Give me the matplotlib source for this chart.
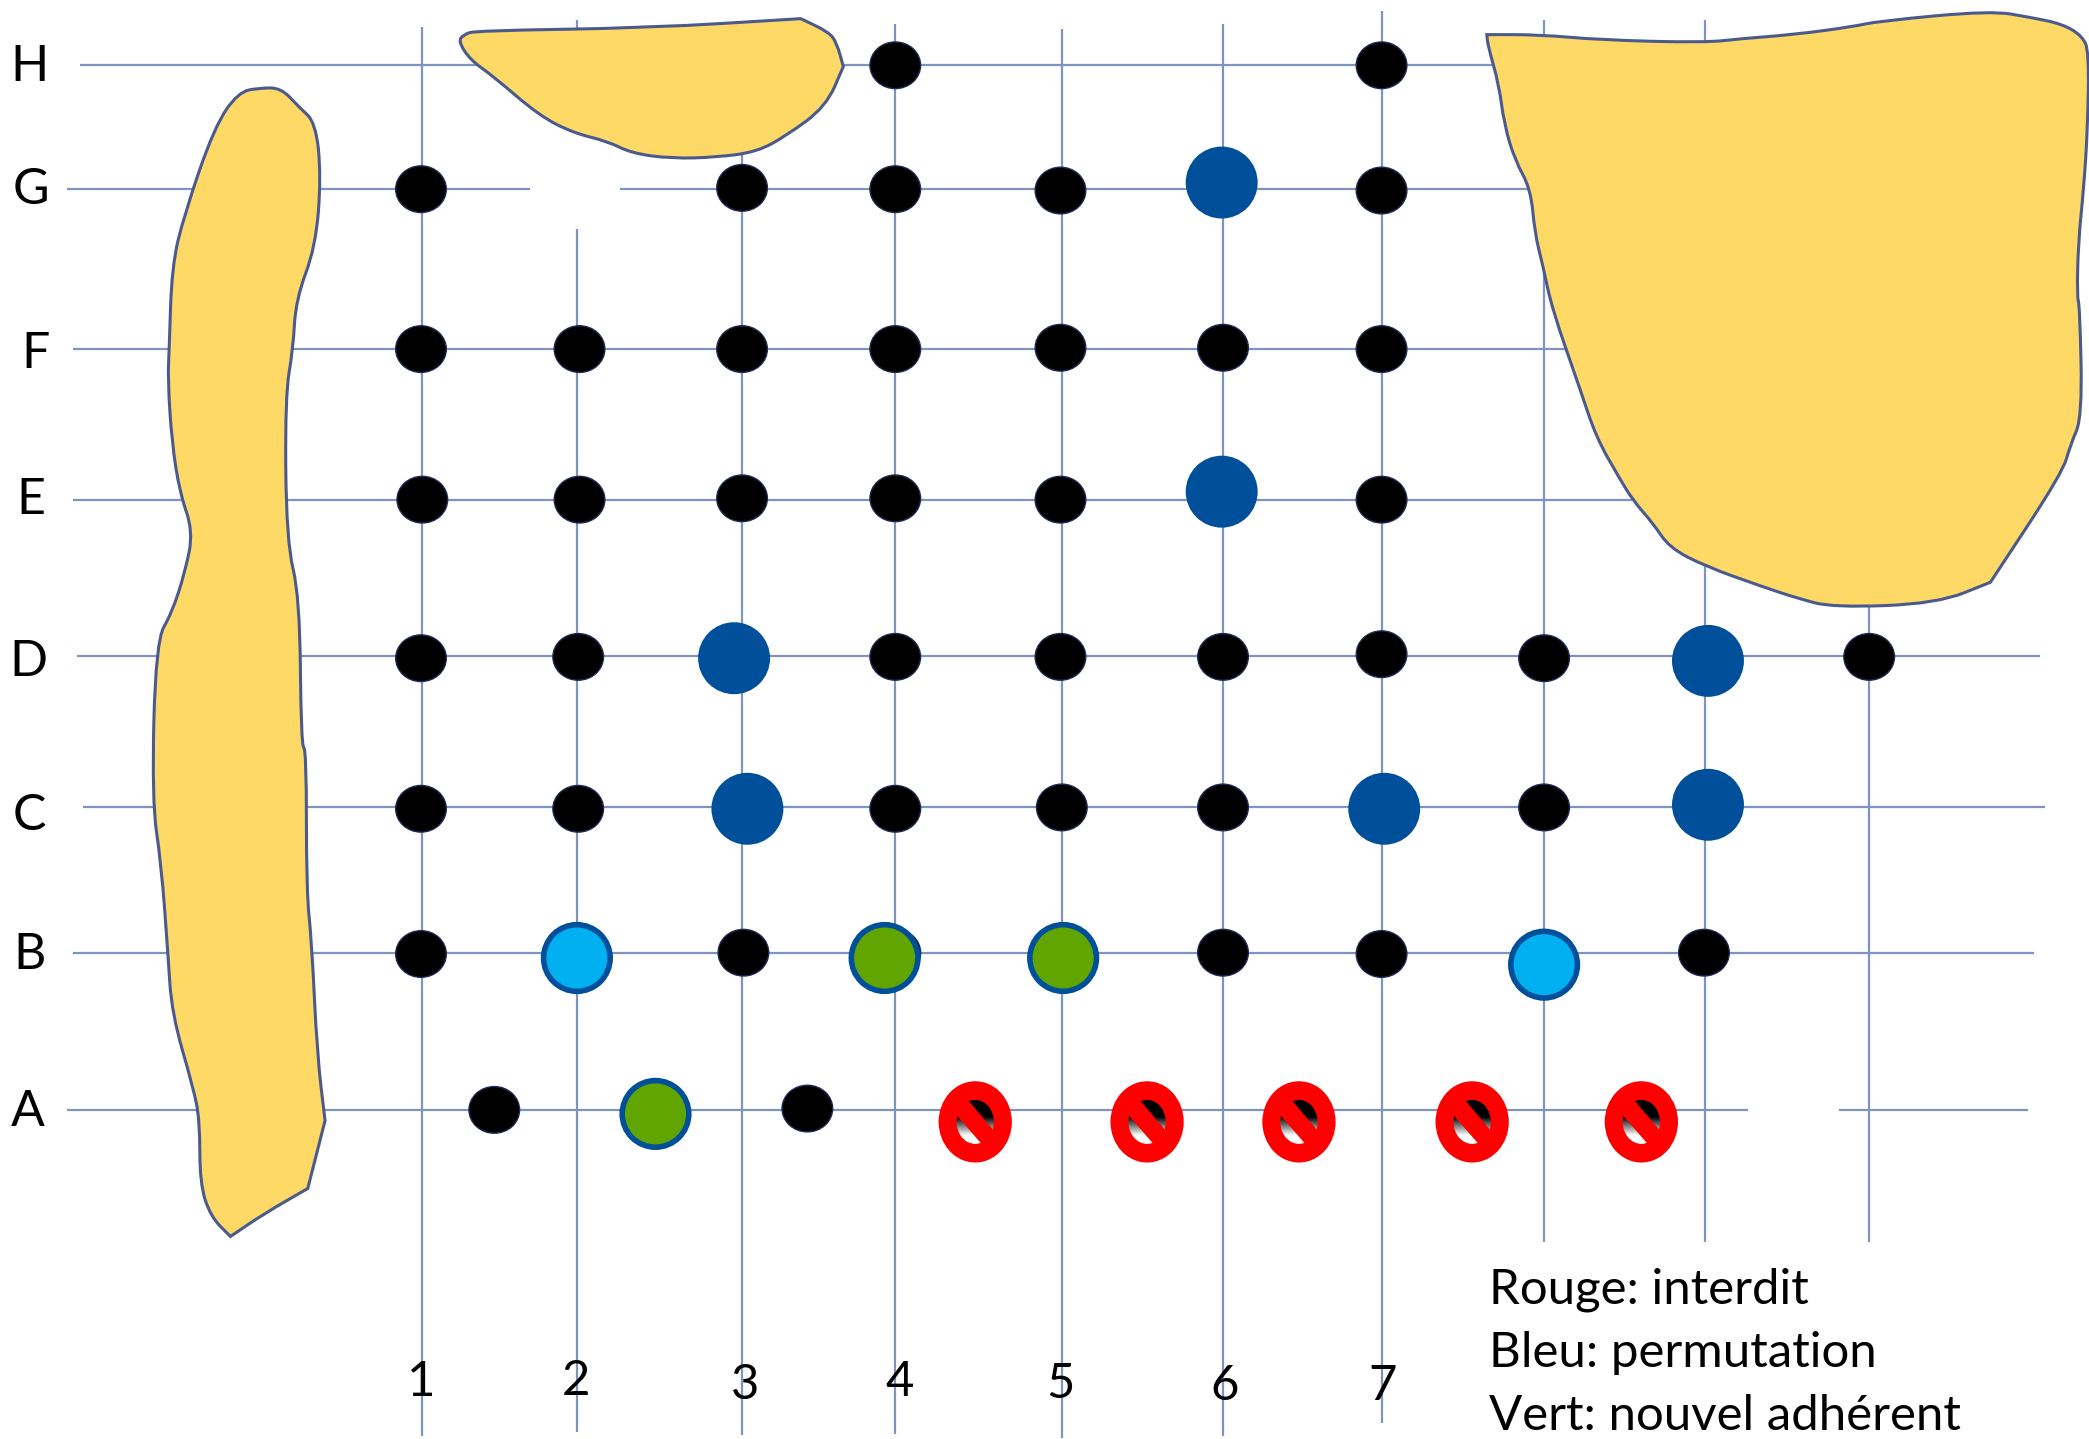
#!/usr/bin/env python3
"""Plan de salle: grille de places, zones jaunes et legende."""

import matplotlib

matplotlib.use("Agg")
import matplotlib.pyplot as plt
import numpy as np
from matplotlib.patches import Ellipse, PathPatch, Polygon
from matplotlib.path import Path

ROW_NAMES = ["H", "G", "F", "E", "D", "C", "B", "A"]
ROW_LABEL_X = [22, 23, 27, 23, 21, 22, 22, 21]
ROW_LABEL_Y = [61, 153, 276, 386, 507, 623, 727, 845]

COL_NAMES = ["1", "2", "3", "4", "5", "6", "7"]
COL_LABEL_X = [316, 432, 559, 675, 796, 919, 1038]
COL_LABEL_Y = [1048, 1047, 1050, 1048, 1049, 1051, 1051]

# y, x start, x end
H_LINES = [
    (49, 60, 1125),
    (142, 50, 398),
    (142, 465, 1160),
    (262, 55, 1185),
    (375, 55, 1225),
    (492, 58, 1531),
    (606, 62, 1535),
    (715, 55, 1527),
    (833, 50, 1312),
    (833, 1380, 1522),
]
# x, y start, y end
V_LINES = [
    (317, 20, 1078),
    (433, 15, 100),
    (433, 172, 1075),
    (557, 115, 1077),
    (672, 18, 1076),
    (797, 22, 1079),
    (918, 18, 1078),
    (1037, 8, 1068),
    (1159, 15, 932),
    (1280, 15, 932),
    (1403, 450, 932),
]

BLACK_X = [672, 1037,
           316, 557, 672, 796, 1037,
           316, 435, 557, 672, 796, 918, 1037,
           317, 435, 557, 672, 796, 1037,
           316, 434, 672, 796, 918, 1037, 1159, 1403,
           316, 434, 672, 797, 918, 1159,
           316, 558, 672, 918, 1037, 1279,
           371, 606]
BLACK_Y = [49, 49,
           142, 141, 142, 143, 143,
           262, 262, 262, 262, 261, 261, 262,
           375, 375, 374, 374, 375, 375,
           494, 493, 493, 493, 493, 491, 494, 493,
           607, 607, 607, 606, 606, 606,
           716, 715, 715, 715, 716, 715,
           833, 832]

BLUE_X = [917, 917, 551, 561, 1039, 1282, 1282]
BLUE_Y = [137, 369, 494, 607, 607, 496, 604]
CYAN_X = [433, 1159]
CYAN_Y = [719, 724]
GREEN_X = [664, 798, 492]
GREEN_Y = [719, 719, 836]
RED_X = [732, 861, 975, 1105, 1232]
RED_Y = [842, 842, 842, 842, 842]

# a repeated point keeps a sharp corner in the outline
LEFT_BLOB = [(179, 69), (195, 66), (211, 66), (224, 80), (237, 92), (241, 132), (237, 185), (222, 225),
             (220, 262), (214, 297), (215, 407), (225, 447), (226, 559), (230, 563), (230, 669),
             (234, 707), (238, 791), (244, 841), (244, 841), (231, 892), (231, 892), (198, 911),
             (173, 928), (173, 928), (158, 913),
             (150, 888), (150, 841), (145, 816), (129, 761), (126, 715), (121, 648), (114, 601),
             (117, 481), (129, 460), (139, 429), (145, 399), (135, 370), (129, 332), (126, 285),
             (127, 262), (129, 200), (138, 162), (161, 95)]
TOP_BLOB = [(344, 31), (348, 26), (357, 23), (487, 21), (601, 14), (601, 14), (622, 24), (628, 32),
            (633, 50), (633, 50), (620, 80),
            (590, 102), (568, 114), (538, 118), (504, 119), (474, 115), (456, 106), (431, 100),
            (405, 87), (370, 57), (353, 45)]
RIGHT_BLOB = [(1116, 26), (1116, 26), (1156, 26), (1201, 30), (1280, 32), (1307, 29), (1346, 26), (1391, 20),
              (1409, 16), (1494, 8), (1524, 13), (1548, 18), (1563, 27), (1568, 39), (1567, 96),
              (1564, 142), (1560, 181), (1559, 223), (1561, 229), (1563, 313), (1554, 334),
              (1548, 355), (1494, 437), (1494, 437), (1454, 453), (1376, 456), (1349, 449), (1322, 440),
              (1280, 425), (1253, 411), (1241, 393), (1226, 376), (1215, 358), (1198, 328),
              (1186, 292), (1165, 232), (1158, 199), (1152, 175), (1149, 142), (1137, 120),
              (1129, 93), (1125, 63), (1117, 35)]

LEGEND_LINES = ["Rouge: interdit", "Bleu: permutation", "Vert: nouvel adhérent"]
LEGEND_X = 1118
LEGEND_Y = [978, 1026, 1073]

LINE_COLOR = "#7d94c1"
BLOB_FILL = "#ffd966"
BLOB_EDGE = "#4a5a8e"
DARK_BLUE = "#004f9b"
CYAN = "#00b0f0"
GREEN = "#60a500"
RED = "#ff0000"
FONT = "Lato"
LABEL_SIZE = 36
LEGEND_SIZE = 35.4


def smooth_outline(points):
    # quadratic curves through edge midpoints, takes the corners off the traced outline
    pts = np.asarray(points, dtype=float)
    mids = (pts + np.roll(pts, -1, axis=0)) / 2
    verts = [mids[-1]]
    codes = [Path.MOVETO]
    for corner, mid in zip(pts, mids):
        verts += [corner, mid]
        codes += [Path.CURVE3, Path.CURVE3]
    return Path(verts, codes)


def draw_forbidden(ax, x, y):
    ax.add_patch(Ellipse((x, y), 55, 61, color=RED, lw=0, zorder=5))
    # inner hole goes from black to white, hidden by the bar afterwards
    hole = Ellipse((x, y), 28, 33, fc="none", ec="none", zorder=6)
    ax.add_patch(hole)
    grad = np.clip((np.linspace(-17, 17, 64) + 4) / 14, 0, 1).reshape(-1, 1)
    img = ax.imshow(grad, cmap="gray", vmin=0, vmax=1, extent=(x - 15, x + 15, y + 17, y - 17),
                    origin="upper", aspect="auto", zorder=6)
    img.set_clip_path(hole)
    bar = [(x - 10.6, y - 22.5), (x + 17.9, y + 11.2), (x + 10.2, y + 22.8), (x - 19.4, y - 11.2)]
    ax.add_patch(Polygon(bar, closed=True, color=RED, lw=0, zorder=7))


def main():
    fig = plt.figure(figsize=(20.89, 14.39), dpi=100, facecolor="white")
    ax = fig.add_axes([0, 0, 1, 1])

    for y, x0, x1 in H_LINES:
        ax.plot([x0, x1], [y, y], color=LINE_COLOR, lw=1.6, zorder=1, solid_capstyle="butt")
    for x, y0, y1 in V_LINES:
        ax.plot([x, x], [y0, y1], color=LINE_COLOR, lw=1.6, zorder=1, solid_capstyle="butt")

    for blob in [LEFT_BLOB, TOP_BLOB, RIGHT_BLOB]:
        ax.add_patch(PathPatch(smooth_outline(blob), fc=BLOB_FILL, ec=BLOB_EDGE, lw=2.2, zorder=2))

    for x, y in zip(BLACK_X, BLACK_Y):
        ax.add_patch(Ellipse((x, y), 38, 35, fc="#000000", ec="#1c2a55", lw=1, zorder=3))
    for x, y in zip(BLUE_X, BLUE_Y):
        ax.add_patch(Ellipse((x, y), 54, 54, color=DARK_BLUE, lw=0, zorder=4))
    for x, y in zip(CYAN_X, CYAN_Y):
        ax.add_patch(Ellipse((x, y), 50, 50, fc=CYAN, ec=DARK_BLUE, lw=4, zorder=4))
    for x, y in zip(GREEN_X, GREEN_Y):
        ax.add_patch(Ellipse((x, y), 50, 50, fc=GREEN, ec=DARK_BLUE, lw=4, zorder=4))
    for x, y in zip(RED_X, RED_Y):
        draw_forbidden(ax, x, y)

    for name, x, y in zip(ROW_NAMES, ROW_LABEL_X, ROW_LABEL_Y):
        ax.text(x, y, name, ha="center", va="baseline", family=FONT, fontsize=LABEL_SIZE, color="black")
    for name, x, y in zip(COL_NAMES, COL_LABEL_X, COL_LABEL_Y):
        ax.text(x, y, name, ha="center", va="baseline", family=FONT, fontsize=LEGEND_SIZE, color="black")
    for line, y in zip(LEGEND_LINES, LEGEND_Y):
        ax.text(LEGEND_X, y, line, ha="left", va="baseline", family=FONT, fontsize=LEGEND_SIZE, color="black")

    ax.set_xlim(0, 1568)
    ax.set_ylim(1080, 0)
    ax.axis("off")
    fig.savefig("out.png", dpi=100)


if __name__ == "__main__":
    main()
